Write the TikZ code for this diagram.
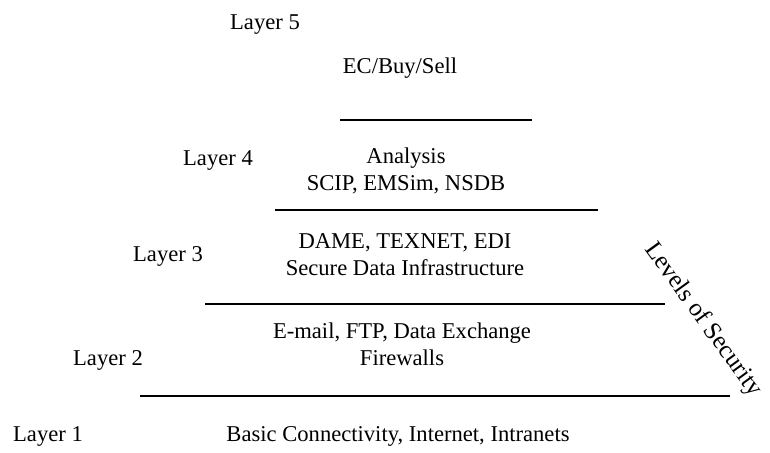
\documentclass[tikz,border=0pt]{standalone}
\usepackage{fontspec}
\setmainfont{Liberation Serif}
\begin{document}
\begin{tikzpicture}[x=0.5pt,y=-0.5pt,font=\fontsize{11.3}{13.5}\selectfont,
    layer/.style={inner sep=1pt},
    entry/.style={align=center,inner sep=1pt},
    sep/.style={line width=0.9pt}]
            \useasboundingbox (0,0) rectangle (770,452);
            \node[layer] (l5) at (265,25) {Layer 5};
            \node[layer] (l4) at (218,160) {Layer 4};
            \node[layer] (l3) at (168,256) {Layer 3};
            \node[layer] (l2) at (108,360) {Layer 2};
            \node[layer] (l1) at (48,436) {Layer 1};
            \node[entry] (e5) at (400,68) {EC/Buy/Sell};
            \node[entry] (e4) at (406,171) {Analysis\\SCIP, EMSim, NSDB};
            \node[entry] (e3) at (405,255) {DAME, TEXNET, EDI\\Secure Data Infrastructure};
            \node[entry] (e2) at (402,344) {E-mail, FTP, Data Exchange\\Firewalls};
            \node[entry] (e1) at (398,436) {Basic Connectivity, Internet, Intranets};
            \draw[sep] (340,120)--(532,120);
            \draw[sep] (275,210)--(598,210);
            \draw[sep] (205,304)--(665,304);
            \draw[sep] (140,396)--(730,396);
            \node[rotate=-54,inner sep=1pt,font=\fontsize{12.5}{15}\selectfont] (sec) at (703,320) {Levels of Security};
        \end{tikzpicture}
\end{document}
